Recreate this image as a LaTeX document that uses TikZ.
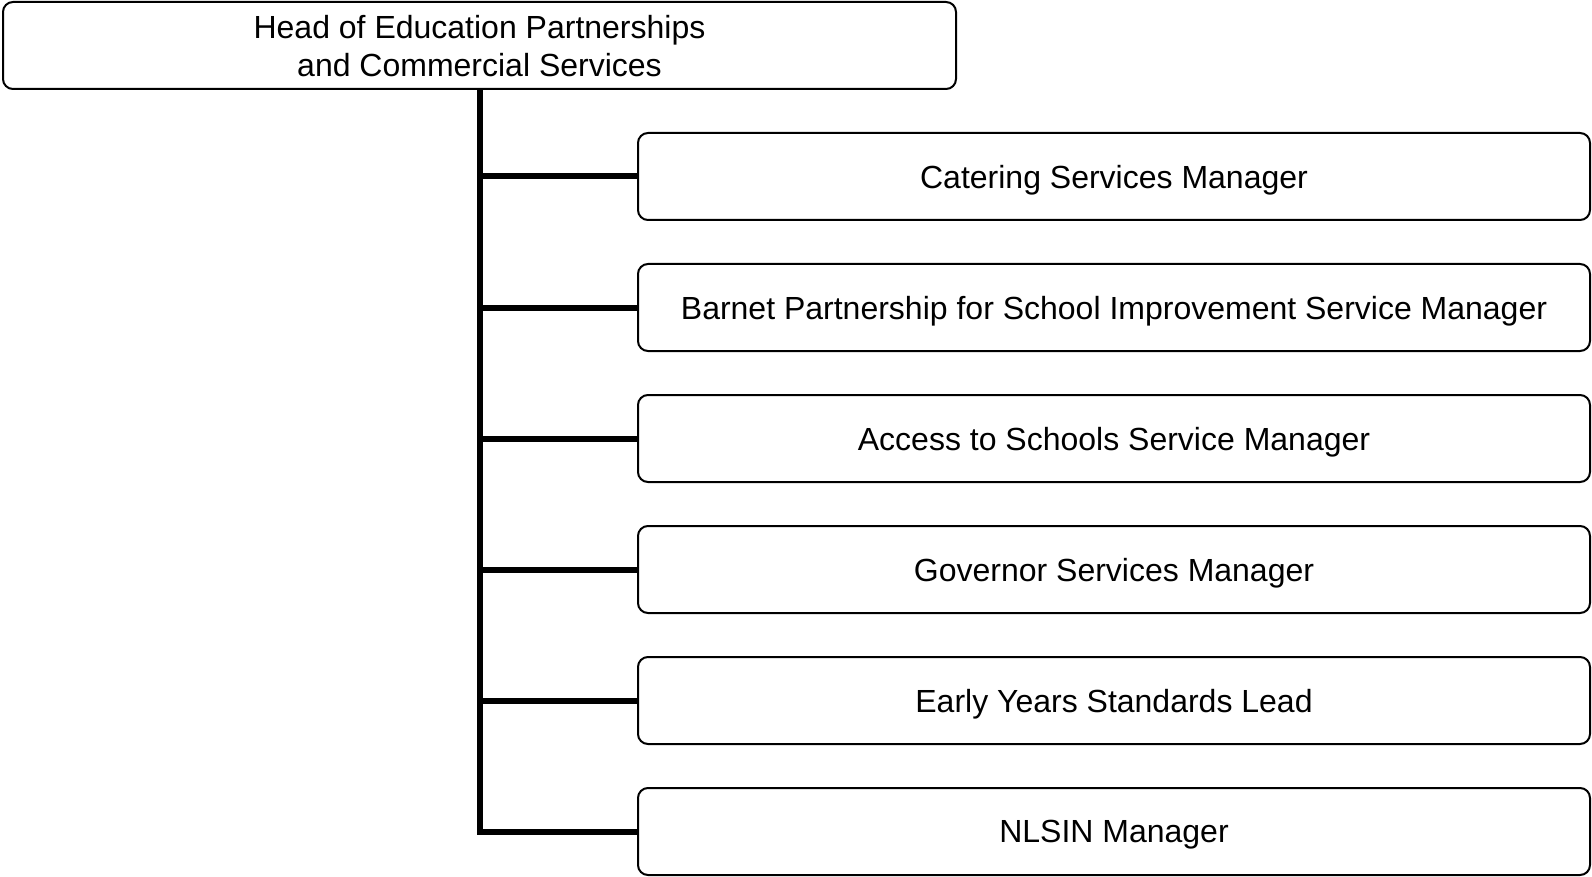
\documentclass[tikz,border=0pt]{standalone}
\usepackage{fontspec}
\setmainfont{Liberation Sans}
\begin{document}
\begin{tikzpicture}[x=1pt,y=-1pt,
  box/.style={draw=black, line width=2pt, rounded corners=10pt, fill=white,
    minimum height=87pt, inner sep=0pt, align=center,
    font=\fontsize{32}{38}\selectfont},
  topbox/.style={box, minimum width=953pt, text depth=-4pt},
  childbox/.style={box, minimum width=952pt, text depth=-1pt},
  conn/.style={draw=black, line width=6pt, line join=miter}]
\useasboundingbox (0,0) rectangle (1592,877);
\node[topbox] (top) at (479.5,45.5) {Head of Education Partnerships\\and Commercial Services};
\node[childbox] (c1) at (1114,176.5) {Catering Services Manager};
\node[childbox] (c2) at (1114,307.5) {Barnet Partnership for School Improvement Service Manager};
\node[childbox] (c3) at (1114,438.5) {Access to Schools Service Manager};
\node[childbox] (c4) at (1114,569.5) {Governor Services Manager};
\node[childbox] (c5) at (1114,700.5) {Early Years Standards Lead};
\node[childbox] (c6) at (1114,831.5) {NLSIN Manager};
\draw[conn] (top.south) |- (c6.west);
\foreach \n in {c1,c2,c3,c4,c5} {
  \draw[conn] (top.south |- \n.west) -- (\n.west);
}
\end{tikzpicture}
\end{document}
